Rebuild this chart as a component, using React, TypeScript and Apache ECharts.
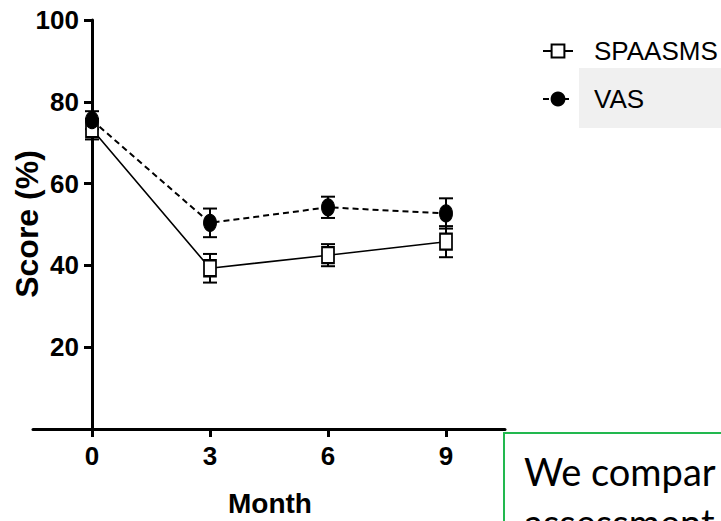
import React, { useEffect, useRef } from "react";
import * as echarts from "echarts";

const months = [0, 3, 6, 9];
const spaasms = [73.3, 39.3, 42.5, 45.8];
const spaasmsErr = [2.5, 3.5, 2.7, 3.8];
const vas = [75.5, 50.4, 54.2, 52.7];
const vasErr = [2.2, 3.5, 2.6, 3.7];
const xTicks = [0, 3, 6, 9];
const yTicks = [20, 40, 60, 80, 100];

const SANS = "'Liberation Sans', Arial, sans-serif";

function errData(vals: number[], errs: number[]) {
  return months.map((m, i) => [m, vals[i] - errs[i], vals[i] + errs[i]]);
}

function errRender(params: any, api: any) {
  const x = api.value(0);
  const lo = api.value(1);
  const hi = api.value(2);
  const t = api.coord([x, hi]);
  const b = api.coord([x, lo]);
  const hw = 7;
  const st = { stroke: "#000", lineWidth: 2 };
  return {
    type: "group",
    children: [
      { type: "line", shape: { x1: t[0], y1: t[1], x2: b[0], y2: b[1] }, style: st },
      { type: "line", shape: { x1: t[0] - hw, y1: t[1], x2: t[0] + hw, y2: t[1] }, style: st },
      { type: "line", shape: { x1: b[0] - hw, y1: b[1], x2: b[0] + hw, y2: b[1] }, style: st },
    ],
  };
}

export default function App() {
  const ref = useRef<HTMLDivElement>(null);
  useEffect(() => {
    const chart = echarts.init(ref.current!, null, { renderer: "svg" });
    chart.setOption({
      animation: false,
      backgroundColor: "#fff",
      grid: { left: 33, top: 20, width: 472, height: 409, containLabel: false, outerBoundsMode: "none" },
      xAxis: {
        type: "value",
        min: -1.5,
        max: 10.5,
        splitLine: { show: false },
        axisLine: { onZero: false, lineStyle: { color: "#000", width: 3 } },
        axisTick: { show: true, customValues: xTicks, length: 8, lineStyle: { color: "#000", width: 3 } },
        axisLabel: {
          customValues: xTicks,
          margin: 14,
          color: "#000",
          fontFamily: SANS,
          fontWeight: "bold",
          fontSize: 26,
        },
      },
      yAxis: {
        type: "value",
        min: 0,
        max: 100,
        offset: -59,
        splitLine: { show: false },
        axisLine: { show: true, onZero: false, lineStyle: { color: "#000", width: 3 } },
        axisTick: { show: true, customValues: yTicks, length: 8, lineStyle: { color: "#000", width: 3 } },
        axisLabel: {
          customValues: yTicks,
          margin: 13,
          color: "#000",
          fontFamily: SANS,
          fontWeight: "bold",
          fontSize: 26,
        },
      },
      legend: {
        data: ["SPAASMS", "VAS"],
        orient: "vertical",
        left: 537,
        top: 33,
        itemWidth: 30,
        itemHeight: 16,
        itemGap: 22,
        z: 10,
        textStyle: { color: "#000", fontSize: 26, fontFamily: SANS, padding: [0, 0, 0, 16] },
      },
      graphic: [
        { type: "rect", z: 0, shape: { x: 579, y: 68, width: 142, height: 60 }, style: { fill: "#f0f0f0" } },
        { type: "rect", z: 0, shape: { x: 504, y: 433, width: 240, height: 100 }, style: { fill: "#fff", stroke: "#22b84f", lineWidth: 2 } },
        { type: "text", z: 1, x: 524, y: 490, style: { text: "We compar", fill: "#000", fontSize: 38, fontFamily: "Lato, 'Open Sans', sans-serif", textVerticalAlign: "bottom" } },
        { type: "text", z: 1, x: 524, y: 503, style: { text: "assessment", fill: "#000", fontSize: 38, fontFamily: "Lato, 'Open Sans', sans-serif", textVerticalAlign: "top" } },
        {
          type: "text",
          z: 1,
          x: 27,
          y: 224,
          rotation: Math.PI / 2,
          style: { text: "Score (%)", fill: "#000", fontSize: 32, fontWeight: "bold", fontFamily: SANS, textAlign: "center", textVerticalAlign: "middle" },
        },
        {
          type: "text",
          z: 1,
          x: 270,
          y: 503,
          style: { text: "Month", fill: "#000", fontSize: 28, fontWeight: "bold", fontFamily: SANS, textAlign: "center", textVerticalAlign: "middle" },
        },
      ],
      series: [
        {
          type: "custom",
          name: "SPAASMS err",
          renderItem: errRender,
          data: errData(spaasms, spaasmsErr),
          z: 1,
          silent: true,
        },
        {
          type: "custom",
          name: "VAS err",
          renderItem: errRender,
          data: errData(vas, vasErr),
          z: 1,
          silent: true,
        },
        {
          type: "line",
          name: "SPAASMS",
          data: months.map((m, i) => [m, spaasms[i]]),
          symbol: "rect",
          symbolSize: [12, 16],
          showAllSymbol: true,
          lineStyle: { color: "#000", width: 1.6, type: "solid" },
          itemStyle: { color: "#fff", borderColor: "#000", borderWidth: 2 },
          z: 3,
        },
        {
          type: "line",
          name: "VAS",
          data: months.map((m, i) => [m, vas[i]]),
          symbol: "circle",
          symbolSize: [13, 17],
          showAllSymbol: true,
          lineStyle: { color: "#000", width: 2, type: [6, 4] },
          itemStyle: { color: "#000", borderColor: "#000", borderWidth: 1 },
          z: 4,
        },
      ],
    });
    return () => chart.dispose();
  }, []);
  return <div ref={ref} style={{ position: "absolute", left: 0, top: 0, width: 721, height: 521 }} />;
}
